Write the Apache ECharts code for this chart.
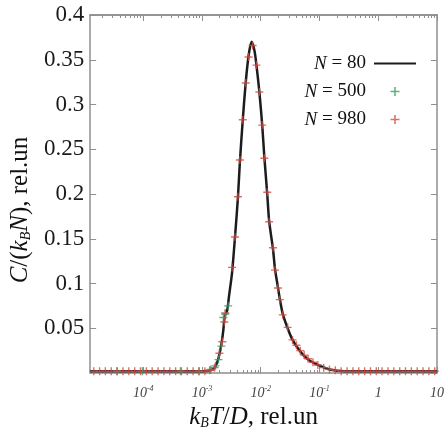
<!DOCTYPE html>
<html><head><meta charset="utf-8">
<script src="https://cdn.jsdelivr.net/npm/echarts@6/dist/echarts.min.js"></script>
<style>html,body{margin:0;padding:0;background:#fff}#c{width:447px;height:438px}</style>
</head><body><div id="c"></div>
<script>
// ---- data ----
const xMin = 1.25e-5;
const xMax = 10;
const xTickValues = [1e-4, 1e-3, 1e-2, 1e-1, 1, 10];
const xTickBase = ['10', '10', '10', '10', '1', '10'];
const xTickExp = ['-4', '-3', '-2', '-1', '', ''];
const yTickValues = [0.05, 0.1, 0.15, 0.2, 0.25, 0.3, 0.35, 0.4];

// N = 80 (line)
const tN80 = [1.25e-5, 1.03e-3, 1.41e-3, 1.64e-3, 1.84e-3, 1.98e-3, 2.14e-3, 2.31e-3, 2.40e-3, 2.49e-3,
  2.69e-3, 2.90e-3, 3.25e-3, 3.65e-3, 4.09e-3, 4.42e-3, 4.95e-3, 5.56e-3, 6.23e-3, 6.98e-3,
  7.83e-3, 8.45e-3, 9.48e-3, 1.06e-2, 1.15e-2, 1.29e-2, 1.39e-2, 1.62e-2, 1.75e-2, 1.96e-2,
  2.11e-2, 2.37e-2, 2.87e-2, 3.48e-2, 4.71e-2, 6.4e-2, 9.37e-2, 0.148, 0.263, 10];
const cN80 = [0.002, 0.002, 0.003, 0.006, 0.013, 0.021, 0.032, 0.048, 0.06, 0.065,
  0.07, 0.087, 0.112, 0.152, 0.196, 0.236, 0.283, 0.325, 0.355, 0.37,
  0.36, 0.344, 0.314, 0.277, 0.242, 0.2, 0.17, 0.138, 0.116, 0.096,
  0.083, 0.066, 0.05, 0.037, 0.024, 0.015, 0.009, 0.004, 0.002, 0.002];

// N = 500 (green +)
const tN500 = [3.59e-5, 9.7e-5, 4.3e-4, 8.89e-4, 1.41e-3, 1.70e-3, 1.91e-3, 2.14e-3, 2.31e-3, 2.49e-3, 2.79e-3];
const cN500 = [0.002, 0.002, 0.002, 0.002, 0.004, 0.008, 0.015, 0.03, 0.062, 0.066, 0.075];

// N = 980 (red +)
const tN980 = [1.44e-5, 1.81e-5, 2.27e-5, 2.86e-5, 3.59e-5, 4.52e-5, 5.69e-5, 7.15e-5, 8.99e-5, 1.13e-4,
  1.42e-4, 1.79e-4, 2.25e-4, 2.83e-4, 3.56e-4, 4.47e-4, 5.62e-4, 7.07e-4, 8.89e-4, 1.12e-3,
  1.35e-3, 1.64e-3, 1.98e-3, 2.22e-3, 2.40e-3, 2.49e-3, 3.25e-3, 3.65e-3, 4.09e-3, 4.42e-3,
  4.95e-3, 5.56e-3, 6.23e-3, 7.26e-3, 8.45e-3, 9.48e-3, 1.06e-2, 1.15e-2, 1.29e-2, 1.39e-2,
  1.62e-2, 1.75e-2, 1.96e-2, 2.11e-2, 2.37e-2, 2.87e-2, 3.48e-2, 4.05e-2, 4.71e-2, 5.49e-2,
  6.4e-2, 7.74e-2, 9.37e-2, 0.118, 0.148, 0.186, 0.234, 0.295, 0.371, 0.466,
  0.586, 0.737, 0.927, 1.16, 1.47, 1.84, 2.32, 2.91, 3.66, 4.61,
  5.79, 7.28, 9.16];
const cN980 = [0.002, 0.002, 0.002, 0.002, 0.002, 0.002, 0.002, 0.002, 0.002, 0.002,
  0.002, 0.002, 0.002, 0.002, 0.002, 0.002, 0.002, 0.002, 0.002, 0.002,
  0.003, 0.006, 0.022, 0.035, 0.057, 0.067, 0.118, 0.152, 0.197, 0.238,
  0.283, 0.324, 0.353, 0.366, 0.344, 0.314, 0.277, 0.24, 0.202, 0.169,
  0.14, 0.115, 0.095, 0.082, 0.065, 0.051, 0.037, 0.031, 0.025, 0.02,
  0.016, 0.012, 0.009, 0.006, 0.004, 0.003, 0.002, 0.002, 0.002, 0.002,
  0.002, 0.002, 0.002, 0.002, 0.002, 0.002, 0.002, 0.002, 0.002, 0.002,
  0.002, 0.002, 0.002];

// ---- chart ----
const SERIF = '"Liberation Serif", "DejaVu Serif", serif';
const AXIS_COLOR = '#8f8f8f';
const PLUS = 'path://M3.3,0H4.7V3.3H8V4.7H4.7V8H3.3V4.7H0V3.3H3.3Z';
const lmin = Math.log10(xMin), lmax = Math.log10(xMax);
const minorPos = [];
for (let n = -5; n <= 0; n++) for (let k = 2; k <= 9; k++) {
  const v = Math.log10(k * Math.pow(10, n));
  if (v > lmin && v < lmax) minorPos.push(v);
}
const majorPos = xTickValues.map(v => Math.log10(v));

const pair = (ts, cs) => ts.map((t, i) => [t, cs[i]]);

const chart = echarts.init(document.getElementById('c'), null, {renderer: 'canvas'});
const helperX = (pos, vals, len) => ({
  type: 'value', min: lmin, max: lmax, position: pos, gridIndex: 0,
  axisLine: {show: pos === 'top', onZero: false, lineStyle: {color: AXIS_COLOR, width: 1.5}},
  axisTick: {show: true, inside: true, length: len, customValues: vals, lineStyle: {color: AXIS_COLOR, width: 1}},
  axisLabel: {show: false}, splitLine: {show: false}
});
const titleRich = {
  i: {fontFamily: SERIF, fontStyle: 'italic', fontSize: 25, color: '#111'},
  n: {fontFamily: SERIF, fontSize: 25, color: '#111'},
  sub: {fontFamily: SERIF, fontStyle: 'italic', fontSize: 14, color: '#111', verticalAlign: 'bottom'}
};

chart.setOption({
  animation: false,
  backgroundColor: '#fff',
  grid: {left: 86, right: 6, top: 15, bottom: 65, containLabel: false},
  legend: {
    orient: 'vertical', align: 'right', right: 26, top: 49,
    itemWidth: 42, itemHeight: 9, itemGap: 9,
    data: [
      {name: 'N = 80', icon: 'path://M0,3.5H42V5.5H0Z'},
      {name: 'N = 500', icon: PLUS},
      {name: 'N = 980', icon: PLUS}
    ],
    formatter: name => '{i|N}{t|' + name.slice(1) + '}',
    textStyle: {
      fontFamily: SERIF, fontSize: 19, color: '#111',
      rich: {
        i: {fontFamily: SERIF, fontStyle: 'italic', fontSize: 19, color: '#111'},
        t: {fontFamily: SERIF, fontSize: 19, color: '#111', padding: [0, 3, 0, 0]}
      }
    }
  },
  xAxis: [
    {
      type: 'log', logBase: 10, min: xMin, max: xMax, position: 'bottom', gridIndex: 0,
      name: '{i|k}{sub|B}{i|T}{n|/}{i|D}{n|, rel.un}',
      nameLocation: 'middle', nameGap: 25,
      nameTextStyle: {fontFamily: SERIF, fontSize: 25, color: '#111', padding: [0, 20, 0, 0], rich: titleRich},
      axisLine: {show: true, onZero: false, lineStyle: {color: AXIS_COLOR, width: 1.5}},
      axisTick: {show: true, inside: true, length: 6, lineStyle: {color: AXIS_COLOR, width: 1}},
      axisLabel: {
        showMinLabel: false, margin: 12,
        formatter: v => {
          const e = Math.round(Math.log10(v));
          const idx = xTickValues.findIndex(t => Math.round(Math.log10(t)) === e);
          if (idx < 0) return '';
          return xTickExp[idx] ? '{b|' + xTickBase[idx] + '}{s|' + xTickExp[idx] + '}' : '{b|' + xTickBase[idx] + '}';
        },
        rich: {
          b: {fontFamily: SERIF, fontStyle: 'italic', fontSize: 14, color: '#444', lineHeight: 17},
          s: {fontFamily: SERIF, fontStyle: 'italic', fontSize: 8, color: '#444', verticalAlign: 'top'}
        }
      },
      splitLine: {show: false}
    },
    helperX('bottom', minorPos, 3),
    helperX('top', majorPos, 6),
    helperX('top', minorPos, 3)
  ],
  yAxis: [
    {
      type: 'value', min: 0, max: 0.4, interval: 0.05, position: 'left',
      name: '{i|C}{n|/(}{i|k}{sub|B}{i|N}{n|), rel.un}',
      nameLocation: 'middle', nameRotate: 90, nameGap: 56,
      nameTextStyle: {fontFamily: SERIF, fontSize: 25, color: '#111', padding: [0, 32, 0, 0], rich: titleRich},
      axisLine: {show: true, onZero: false, lineStyle: {color: AXIS_COLOR, width: 1.5}},
      axisTick: {show: true, inside: true, length: 6, lineStyle: {color: AXIS_COLOR, width: 1}},
      axisLabel: {
        showMinLabel: false, margin: 6,
        fontFamily: SERIF, fontSize: 23, color: '#1a1a1a',
        formatter: v => {
          const idx = yTickValues.findIndex(t => Math.abs(t - v) < 1e-9);
          return idx < 0 ? '' : String(yTickValues[idx]);
        }
      },
      splitLine: {show: false}
    },
    {
      type: 'value', min: 0, max: 0.4, interval: 0.05, position: 'right',
      axisLine: {show: true, onZero: false, lineStyle: {color: AXIS_COLOR, width: 1.5}},
      axisTick: {show: true, inside: true, length: 6, lineStyle: {color: AXIS_COLOR, width: 1}},
      axisLabel: {show: false}, splitLine: {show: false}
    }
  ],
  series: [
    {
      name: 'N = 80', type: 'line', xAxisIndex: 0, yAxisIndex: 0,
      data: pair(tN80, cN80), showSymbol: false, symbol: 'none', smooth: 0.25,
      color: '#1c1c1c', lineStyle: {color: '#1c1c1c', width: 2.5}, z: 2
    },
    {
      name: 'N = 500', type: 'scatter', xAxisIndex: 0, yAxisIndex: 0,
      data: pair(tN500, cN500), symbol: PLUS, symbolSize: 8,
      itemStyle: {color: '#3d9a62'}, z: 3
    },
    {
      name: 'N = 980', type: 'scatter', xAxisIndex: 0, yAxisIndex: 0,
      data: pair(tN980, cN980), symbol: PLUS, symbolSize: 8,
      itemStyle: {color: '#d04c44'}, z: 4
    }
  ]
});
</script>
</body></html>
